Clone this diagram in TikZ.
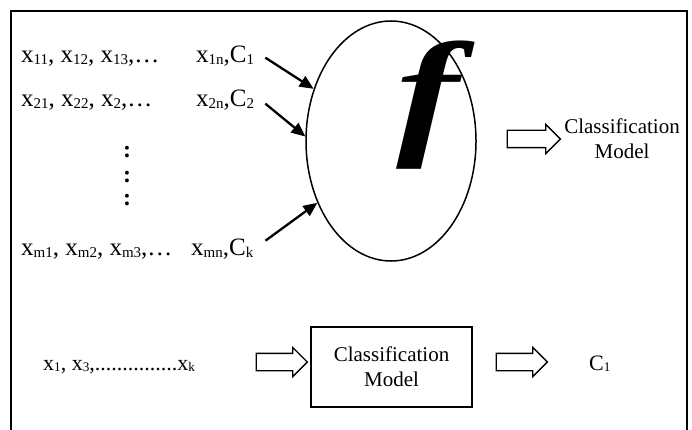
\documentclass[tikz,border=0pt]{standalone}
\usepackage{fontspec}
\setmainfont{Liberation Serif}
\usetikzlibrary{shapes.geometric,shapes.arrows,arrows.meta}
\newcommand\sbs[1]{\raisebox{-0.08em}{\scalebox{0.6}{#1}}}
\begin{document}
\begin{tikzpicture}[x=1pt,y=-1pt,
  txt/.style={inner sep=0pt, anchor=base west, font=\fontsize{25}{29}\selectfont},
  smalltxt/.style={inner sep=0pt, anchor=base west, font=\fontsize{22}{26}\selectfont},
  lbl/.style={align=center, inner sep=0pt, font=\fontsize{21}{25}\selectfont},
  arr/.style={line width=2.3pt, -{Triangle[length=14pt,width=12pt]}},
  blockarr/.style={single arrow, draw, line width=1.3pt, inner xsep=0pt, inner ysep=8pt,
    single arrow head extend=6pt, outer sep=0pt},
  dotcol/.style={inner sep=0pt, font=\fontsize{24}{28}\selectfont\bfseries}
]
\useasboundingbox (0,0) rectangle (692,430);
% frame
\draw[line width=2pt] (11,434) -- (11,11) -- (687,11) -- (687,434);

% ellipse and f
\node[ellipse, draw, line width=1.5pt, minimum width=170pt, minimum height=240pt, inner sep=0pt] (ell) at (391,141) {};
\node[inner sep=0pt, font=\fontsize{140}{140}\selectfont\bfseries\itshape] (f) at (428,105) {\scalebox{1.35}[1]{f}};

% input rows
\node[txt] (r1a) at (21,63) {x\sbs{11}, x\sbs{12}, x\sbs{13},…};
\node[txt] (r1b) at (196,63) {x\sbs{1n},C\sbs{1}};
\node[txt] (r2a) at (21,107) {x\sbs{21}, x\sbs{22}, x\sbs{2},…};
\node[txt] (r2b) at (196,107) {x\sbs{2n},C\sbs{2}};
\node[dotcol] (d1) at (127,152) {:};
\node[dotcol] (d2) at (127,177) {:};
\node[dotcol] (d3) at (127,200) {:};
\node[txt] (rma) at (21,255) {x\sbs{m1}, x\sbs{m2}, x\sbs{m3},…};
\node[txt] (rmb) at (191,255) {x\sbs{mn},C\sbs{k}};

\draw[arr] ([shift={(11pt,-1pt)}]r1b.east) -- (ell.146);
\draw[arr] ([shift={(11pt,-3pt)}]r2b.east) -- (ell.177);
\draw[arr] ([shift={(12pt,8pt)}]rmb.east) -- (ell.220);

% top output
\node[blockarr, minimum height=53pt] (b0) at (529.5,139) {};
\node[lbl] (cm0) at (622,139) {Classification\\Model};

% bottom row
\node[smalltxt] (xb) at (43,370) {x\sbs{1}, x\sbs{3},...............x\sbs{k}};
\node[blockarr, minimum height=51pt] (b1) at (277.5,362) {};
\node[draw, line width=1.8pt, minimum width=161pt, minimum height=80pt, align=center,
  inner sep=0pt, font=\fontsize{21}{25}\selectfont] (cm) at (391.5,367) {Classification\\Model};
\node[blockarr, minimum height=51pt] (b2) at (517.5,362) {};
\node[smalltxt] (c1) at (589,370) {C\sbs{1}};
\end{tikzpicture}
\end{document}
